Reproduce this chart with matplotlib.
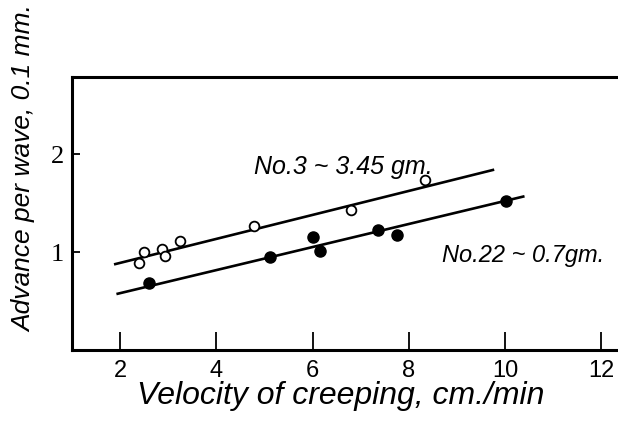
import matplotlib
matplotlib.use('Agg')
import matplotlib.pyplot as plt

# open circles: No.3 ~ 3.45 gm
no3_x = [2.40, 2.49, 2.87, 2.94, 3.24, 4.79, 6.79, 8.33]
no3_y = [0.885, 0.997, 1.03, 0.956, 1.115, 1.268, 1.43, 1.74]
no3_line_x = [1.90, 9.75]
no3_line_y = [0.878, 1.84]

# filled circles: No.22 ~ 0.7 gm
no22_x = [2.60, 5.12, 6.00, 6.15, 7.37, 7.76, 10.03]
no22_y = [0.68, 0.946, 1.15, 1.013, 1.224, 1.173, 1.523]
no22_line_x = [1.95, 10.38]
no22_line_y = [0.575, 1.568]

xticks = [2, 4, 6, 8, 10, 12]
yticks = [1, 2]

hand = ['Liberation Sans', 'DejaVu Sans']

fig = plt.figure(figsize=(6.18, 4.25), dpi=100)
ax = fig.add_axes([72/618, 1 - 350/425, 1 - 72/618, (350 - 77)/425])

ax.plot(no3_line_x, no3_line_y, color='black', lw=1.9)
ax.plot(no22_line_x, no22_line_y, color='black', lw=1.9)
ax.plot(no3_x, no3_y, 'o', mfc='white', mec='black', mew=1.3, ms=7, zorder=3)
ax.plot(no22_x, no22_y, 'o', color='black', ms=8, zorder=3)

ax.set_xlim(1.0, 12.35)
ax.set_ylim(0, 2.79)
ax.set_xticks(xticks)
ax.set_yticks(yticks)
ax.set_xticklabels([str(t) for t in xticks], family=hand, fontsize=17)
ax.set_yticklabels([str(t) for t in yticks], family='Liberation Serif', fontsize=19)
ax.tick_params(axis='x', direction='in', length=13, width=1.3, pad=7)
ax.tick_params(axis='y', direction='in', length=6, width=1.3, pad=6)

ax.spines['right'].set_visible(False)
for s in ['left', 'bottom', 'top']:
    ax.spines[s].set_linewidth(2.2)

ax.text(4.78, 1.87, 'No.3 ~ 3.45 gm.', family=hand, style='italic', fontsize=18, va='center')
ax.text(8.70, 0.97, 'No.22 ~ 0.7gm.', family=hand, style='italic', fontsize=17, va='center')

fig.text(341/618, 1 - 396/425, 'Velocity of creeping, cm./min', family=hand, style='italic',
         fontsize=23, ha='center', va='center')
fig.text(24/618, 1 - 168/425, 'Advance per wave, 0.1 mm.', family=hand, style='italic',
         fontsize=19, rotation=90, ha='center', va='center')

fig.savefig('out.png', dpi=100)
